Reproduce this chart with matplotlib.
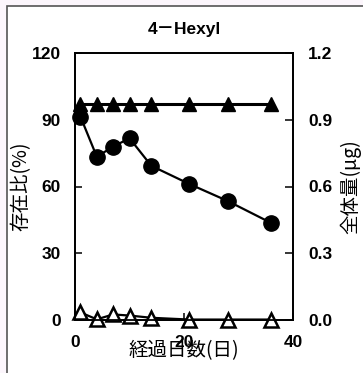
import numpy as np
import matplotlib.pyplot as plt
from matplotlib.patches import Rectangle

# 経過日数
days = [1, 4, 7, 10, 14, 21, 28, 36]
# 存在比 (%) - 黒丸
ratio = [91.4, 73.4, 77.9, 81.7, 69.3, 61.1, 53.5, 43.6]
# 存在比 (%) - 白三角
ratio_open = [3.4, 0.3, 2.5, 2.0, 1.0, 0.2, 0.2, 0.2]
# 全体量 (μg) - 黒三角
total = [0.97, 0.97, 0.97, 0.97, 0.97, 0.97, 0.97, 0.97]

left_ticks = [0, 30, 60, 90, 120]
right_ticks = [0.0, 0.3, 0.6, 0.9, 1.2]
x_ticks = [0, 20, 40]

fonts = ['Liberation Sans', 'Noto Sans CJK JP', 'DejaVu Sans']
cjk = ['Noto Sans CJK JP', 'DejaVu Sans']
plt.rcParams['font.family'] = fonts
plt.rcParams['font.weight'] = 'bold'

fig = plt.figure(figsize=(3.63, 3.73), dpi=100)
fig.patch.set_facecolor('white')
# 外枠
fig.patches.append(Rectangle((0, 0), 1, 1, transform=fig.transFigure,
                             facecolor='#fcf6fc', edgecolor='none', zorder=-2))
fig.patches.append(Rectangle((6.5 / 363, -0.1), 1.2, 1.1 - 6.5 / 373,
                             transform=fig.transFigure, facecolor='white',
                             edgecolor='#555555', linewidth=1.2, zorder=-1))

ax = fig.add_axes([75 / 363, 1 - 320 / 373, 218 / 363, 267 / 373])
ax.set_facecolor('none')
ax2 = ax.twinx()

ax.plot(days, ratio, color='black', marker='o', markersize=11, linewidth=1.6, clip_on=False, zorder=3)
ax.plot(days, ratio_open, color='black', marker='^', markersize=10, markerfacecolor='white',
        markeredgewidth=1.8, linewidth=1.6, clip_on=False, zorder=3)
ax2.plot(days, total, color='black', marker='^', markersize=10.5, linewidth=2.2, clip_on=False, zorder=3)

ax.set_xlim(0, 40)
ax.set_ylim(0, 120)
ax2.set_ylim(0, 1.2)
ax.set_xticks(x_ticks)
ax.set_yticks(left_ticks)
ax2.set_yticks(right_ticks)
ax2.set_yticklabels(['%.1f' % v for v in right_ticks])

ax.tick_params(axis='y', direction='in', length=5, width=1.1, labelsize=12.5, pad=10)
ax.tick_params(axis='x', direction='in', length=5, width=1.1, labelsize=12.5, pad=11)
ax2.tick_params(axis='y', direction='in', length=6, width=1.1, labelsize=12.5, pad=11)

for a in (ax, ax2):
    for s in a.spines.values():
        s.set_linewidth(1.3)

ax.set_title('4－Hexyl', fontsize=12.5, fontweight='bold', pad=14)
ax.set_xlabel('経過日数(日)', family=cjk, fontsize=14, labelpad=-7)
ax.set_ylabel('存在比(%)', family=cjk, fontsize=14, labelpad=0)
ax2.set_ylabel('全体量(μg)', family=cjk, fontsize=14, rotation=90, labelpad=5)

fig.savefig('out.png', dpi=100)
